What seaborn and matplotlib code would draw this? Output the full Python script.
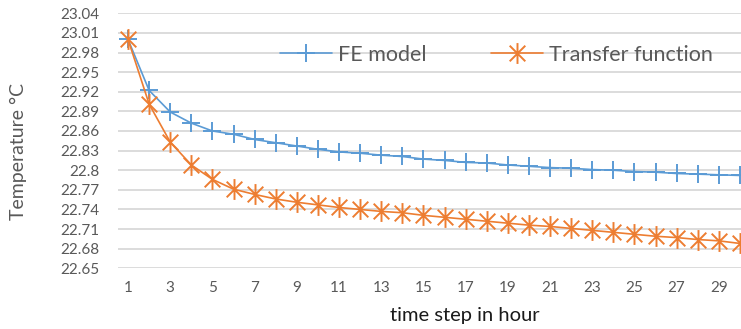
import numpy as np
import pandas as pd
import seaborn as sns
import matplotlib.pyplot as plt
from matplotlib.path import Path

hours = list(range(1, 31))
fe_model = [23.000, 22.922, 22.889, 22.872, 22.860, 22.855, 22.847, 22.842, 22.837, 22.832,
            22.828, 22.826, 22.823, 22.821, 22.817, 22.815, 22.812, 22.811, 22.808, 22.806,
            22.804, 22.803, 22.801, 22.800, 22.798, 22.797, 22.795, 22.794, 22.793, 22.792]
transfer_function = [23.000, 22.901, 22.843, 22.808, 22.786, 22.771, 22.763, 22.756, 22.751, 22.747,
                     22.743, 22.740, 22.737, 22.735, 22.731, 22.728, 22.725, 22.722, 22.719, 22.716,
                     22.714, 22.711, 22.708, 22.705, 22.702, 22.699, 22.697, 22.694, 22.692, 22.688]
y_ticks = [23.04, 23.01, 22.98, 22.95, 22.92, 22.89, 22.86, 22.83, 22.80, 22.77, 22.74, 22.71, 22.68, 22.65]
x_ticks = list(range(1, 30, 2))
series_names = ["FE model", "Transfer function"]

df = pd.DataFrame({
    "hour": hours * 2,
    "temp": fe_model + transfer_function,
    "series": [series_names[0]] * len(hours) + [series_names[1]] * len(hours),
})

sns.set_theme(style="white")
plt.rcParams['font.family'] = ['Lato', 'DejaVu Sans']

W, H = 741, 329
fig = plt.figure(figsize=(W / 100, H / 100), dpi=100)
left_px, right_px, top_px, bot_px = 117.5, 741, 13.3, 268.3
ax = fig.add_axes([left_px / W, 1 - bot_px / H, (right_px - left_px) / W, (bot_px - top_px) / H])

blue = "#5B9BD5"
orange = "#ED7D31"
star = Path([(0, -1), (0, 1), (-0.75, -0.75), (0.75, 0.75), (-0.75, 0.75), (0.75, -0.75)],
            [Path.MOVETO, Path.LINETO, Path.MOVETO, Path.LINETO, Path.MOVETO, Path.LINETO])

sns.lineplot(data=df[df.series == series_names[0]], x="hour", y="temp", ax=ax, color=blue,
             marker="+", markersize=13, markeredgewidth=1.4, markeredgecolor=blue,
             linewidth=1.2, label=series_names[0])
sns.lineplot(data=df[df.series == series_names[1]], x="hour", y="temp", ax=ax, color=orange,
             marker=star, markersize=15, markeredgewidth=1.4, markeredgecolor=orange,
             linewidth=1.2, label=series_names[1])

ax.set_ylim(22.65, 23.04)
ax.set_xlim(0.5, 0.5 + (right_px - left_px) / 21.1)
ax.set_yticks(y_ticks)
ax.set_yticklabels([f"{v:g}" for v in y_ticks])
ax.set_xticks(x_ticks)
ax.set_xticklabels([str(v) for v in x_ticks])
ax.grid(axis="y", color="#d9d9d9", linewidth=1.3)
ax.set_axisbelow(True)
for s in ax.spines.values():
    s.set_visible(False)
ax.tick_params(axis="y", length=0, pad=13, labelsize=11, labelcolor="#595959")
ax.tick_params(axis="x", length=0, pad=9, labelsize=11, labelcolor="#595959")

ax.set_xlabel("time step in hour", fontsize=14.5, color="#1a1a1a")
ax.xaxis.label.set_va("center")
ax.xaxis.set_label_coords((465 - left_px) / (right_px - left_px), -(315 - bot_px) / (bot_px - top_px))
ax.set_ylabel("Temperature °C", fontsize=14, color="#595959")
ax.yaxis.label.set_va("center")
ax.yaxis.set_label_coords((18 - left_px) / (right_px - left_px), (bot_px - 151.5) / (bot_px - top_px))

leg = ax.legend(loc="center left", frameon=False, ncol=2, fontsize=15.5,
                bbox_to_anchor=((280 - left_px) / (right_px - left_px), (bot_px - 55) / (bot_px - top_px)),
                borderpad=0, borderaxespad=0, handlelength=2.4, handletextpad=0.3, columnspacing=3.0)
for t in leg.get_texts():
    t.set_color("#595959")

fig.savefig("out.png", dpi=100)
